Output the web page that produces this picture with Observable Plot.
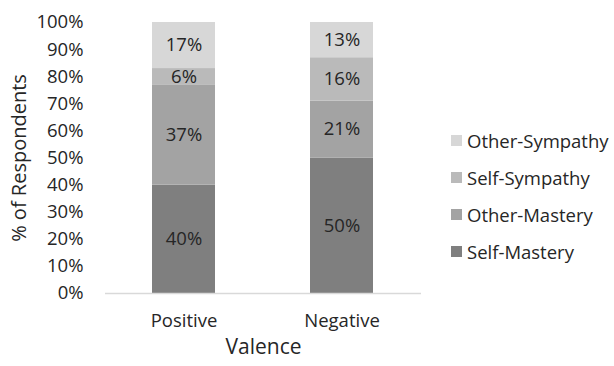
<!DOCTYPE html>
<html>
<head>
<meta charset="utf-8">
<script src="https://cdn.jsdelivr.net/npm/d3@7"></script>
<script src="https://cdn.jsdelivr.net/npm/@observablehq/plot@0.6"></script>
<style>
  html, body { margin: 0; padding: 0; background: #fff; }
  #wrap { position: relative; width: 614px; height: 366px; font-family: "Open Sans", sans-serif; }
  #legend { position: absolute; left: 451px; top: 128px; display: flex; flex-direction: column; gap: 13px; }
  .item { display: flex; align-items: center; height: 24px; font-size: 18.5px; color: #262626; }
  .sw { width: 11px; height: 11px; margin-right: 5px; }
</style>
</head>
<body>
<div id="wrap"></div>
<script>
// Share of respondents by valence, split into four response types
const valences = ["Positive", "Negative"];
const series = ["Self-Mastery", "Other-Mastery", "Self-Sympathy", "Other-Sympathy"];
const colors = ["#7f7f7f", "#a3a3a3", "#bababa", "#d7d7d7"];
const positive = [40, 37, 6, 17];
const negative = [50, 21, 16, 13];
const yTicks = [0, 10, 20, 30, 40, 50, 60, 70, 80, 90, 100];

const rows = [];
series.forEach((s, i) => {
  rows.push({valence: "Positive", series: s, value: positive[i]});
  rows.push({valence: "Negative", series: s, value: negative[i]});
});

const chart = Plot.plot({
  width: 614,
  height: 366,
  marginLeft: 105,
  marginRight: 193,
  marginTop: 22,
  marginBottom: 73,
  style: {fontFamily: "Open Sans, sans-serif", fontSize: "18.5px", color: "#262626", background: "white"},
  x: {domain: valences, paddingInner: 0.6, paddingOuter: 0.3, label: null},
  y: {domain: [0, 100], label: null},
  color: {domain: series, range: colors},
  marks: [
    Plot.barY(rows, Plot.stackY({x: "valence", y: "value", fill: "series", order: series})),
    Plot.text(rows, Plot.stackY({x: "valence", y: "value", z: "series", order: series,
      text: d => d.value + "%", fill: "#262626", fontSize: 18.5})),
    Plot.ruleY([0], {stroke: "#d9d9d9", strokeWidth: 1.5}),
    Plot.axisY(yTicks, {tickSize: 0, tickPadding: 22, tickFormat: d => d + "%", fontSize: 18.5}),
    Plot.axisY({ticks: [], tickSize: 0, fontSize: 20,
      label: "% of Respondents", labelAnchor: "center", labelOffset: 94, labelArrow: "none"}),
    Plot.axisX({tickSize: 0, tickPadding: 20, fontSize: 18.5}),
    Plot.axisX({ticks: [], tickSize: 0, fontSize: 21,
      label: "Valence", labelAnchor: "center", labelOffset: 60, labelArrow: "none"})
  ]
});

const wrap = document.getElementById("wrap");
wrap.appendChild(chart);

// Legend: top entry is the top of the stack
const legend = document.createElement("div");
legend.id = "legend";
series.slice().reverse().forEach(s => {
  const item = document.createElement("div");
  item.className = "item";
  const sw = document.createElement("div");
  sw.className = "sw";
  sw.style.background = colors[series.indexOf(s)];
  const label = document.createElement("span");
  label.textContent = s;
  item.appendChild(sw);
  item.appendChild(label);
  legend.appendChild(item);
});
wrap.appendChild(legend);
</script>
</body>
</html>
